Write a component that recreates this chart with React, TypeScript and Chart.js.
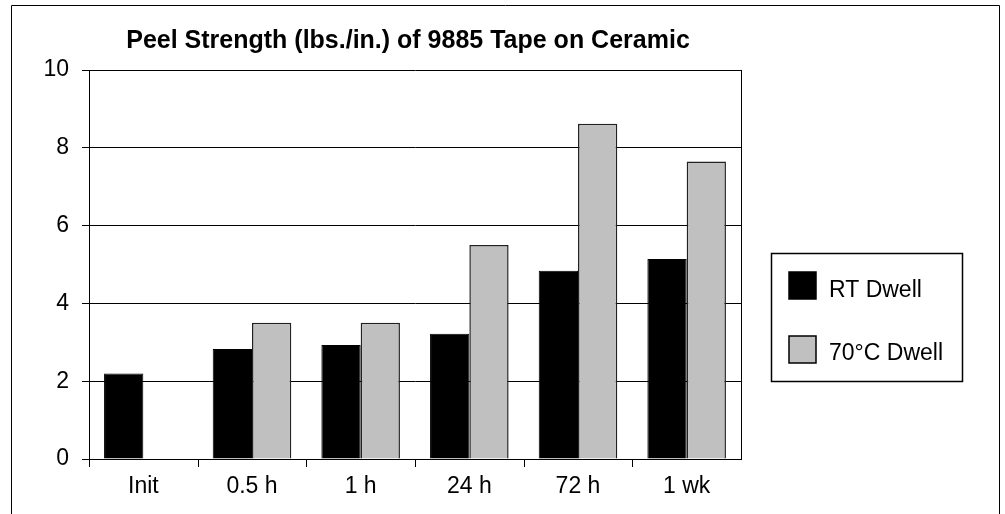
import React, { useEffect, useRef } from "react";
import { Chart, registerables } from "chart.js";

Chart.register(...registerables);

const TITLE = "Peel Strength (lbs./in.) of 9885 Tape on Ceramic";
const categories = ["Init", "0.5 h", "1 h", "24 h", "72 h", "1 wk"];
const rtDwell = [2.2, 2.83, 2.93, 3.22, 4.84, 5.14];
const hotDwell: (number | null)[] = [null, 3.5, 3.5, 5.5, 8.62, 7.65];
const seriesNames = ["RT Dwell", "70°C Dwell"];
const seriesFill = ["#000000", "#c0c0c0"];
const seriesBorder = ["#000000", "#222222"];
const yMin = 0;
const yMax = 10;
const yStep = 2;

const FONT = "'Liberation Sans', Arial, Helvetica, sans-serif";
const X_TICK_LEN = 8;

const decorPlugin = {
  id: "decor",
  afterDraw(chart: any) {
    const { ctx, chartArea } = chart;
    const xs = chart.scales.x;
    ctx.save();
    ctx.strokeStyle = "#000";
    ctx.lineWidth = 1;
    // outer frame
    ctx.beginPath();
    ctx.moveTo(11.5, 514);
    ctx.lineTo(11.5, 5.5);
    ctx.lineTo(999.5, 5.5);
    ctx.lineTo(999.5, 514);
    ctx.stroke();
    // right border of plot area
    ctx.beginPath();
    ctx.moveTo(Math.round(chartArea.right) + 0.5, chartArea.top);
    ctx.lineTo(Math.round(chartArea.right) + 0.5, chartArea.bottom);
    ctx.stroke();
    // x tick marks at category boundaries (left edge of each category)
    const n = categories.length;
    const half = n > 1 ? (xs.getPixelForTick(1) - xs.getPixelForTick(0)) / 2 : 0;
    ctx.beginPath();
    for (let i = 0; i < n; i++) {
      const bx = Math.round(xs.getPixelForTick(i) - half) + 0.5;
      ctx.moveTo(bx, chartArea.bottom);
      ctx.lineTo(bx, chartArea.bottom + X_TICK_LEN);
    }
    ctx.stroke();
    // title
    ctx.fillStyle = "#000";
    ctx.font = `bold 25px ${FONT}`;
    ctx.textAlign = "center";
    ctx.textBaseline = "alphabetic";
    ctx.fillText(TITLE, 408, 48);
    // legend
    ctx.lineWidth = 1.5;
    ctx.strokeRect(771.5, 253.5, 191, 128);
    const ds = chart.data.datasets;
    const rows = [
      { sy: 272, base: 297 },
      { sy: 336, base: 360 },
    ];
    ds.forEach((d: any, i: number) => {
      const r = rows[i];
      ctx.fillStyle = d.backgroundColor;
      ctx.fillRect(789, r.sy, 27, 27);
      ctx.lineWidth = 1.5;
      ctx.strokeStyle = "#000";
      ctx.strokeRect(789, r.sy, 27, 27);
      ctx.fillStyle = "#000";
      ctx.font = `23px ${FONT}`;
      ctx.textAlign = "left";
      ctx.textBaseline = "alphabetic";
      ctx.fillText(d.label, 829, r.base);
    });
    ctx.restore();
  },
};

export default function App() {
  const ref = useRef<HTMLCanvasElement | null>(null);
  useEffect(() => {
    document.body.style.margin = "0";
    const canvas = ref.current;
    if (!canvas) return;
    const chart = new Chart(canvas, {
      type: "bar",
      data: {
        labels: categories,
        datasets: [
          {
            label: seriesNames[0],
            data: rtDwell,
            backgroundColor: seriesFill[0],
            borderColor: seriesBorder[0],
            borderWidth: 1,
            categoryPercentage: 0.723,
            barPercentage: 1,
          },
          {
            label: seriesNames[1],
            data: hotDwell,
            backgroundColor: seriesFill[1],
            borderColor: seriesBorder[1],
            borderWidth: 1.5,
            categoryPercentage: 0.723,
            barPercentage: 1,
          },
        ],
      },
      options: {
        responsive: false,
        animation: false,
        devicePixelRatio: 1,
        layout: { padding: { top: 70, right: 264, left: 0, bottom: 0 } },
        plugins: {
          legend: { display: false },
          title: { display: false },
          tooltip: { enabled: false },
        },
        scales: {
          x: {
            offset: true,
            grid: {
              offset: true,
              display: true,
              drawOnChartArea: false,
              drawTicks: false,
              color: "#000",
            },
            border: { display: true, color: "#000", width: 1 },
            ticks: {
              color: "#000",
              font: { family: FONT, size: 23 },
              padding: 6 + X_TICK_LEN,
              maxRotation: 0,
            },
            afterFit: (s: any) => {
              s.height = 55;
            },
          },
          y: {
            min: yMin,
            max: yMax,
            grid: {
              color: "#000",
              lineWidth: 1,
              drawTicks: true,
              tickLength: 7,
            },
            border: { display: true, color: "#000", width: 1 },
            ticks: {
              stepSize: yStep,
              color: "#000",
              font: { family: FONT, size: 23 },
              padding: 13,
            },
            afterFit: (s: any) => {
              s.width = 89;
            },
          },
        },
      },
      plugins: [decorPlugin],
    });
    return () => chart.destroy();
  }, []);
  return (
    <div style={{ width: 1005, height: 514 }}>
      <canvas ref={ref} width={1005} height={514} />
    </div>
  );
}
